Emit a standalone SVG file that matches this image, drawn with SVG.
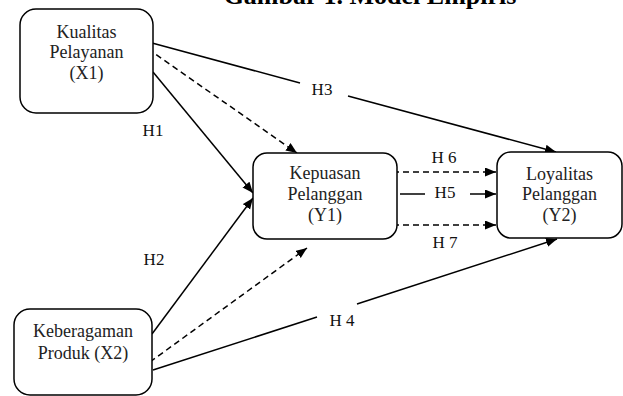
<svg xmlns="http://www.w3.org/2000/svg" width="623" height="396" viewBox="0 0 623 396">
<style>
.box{fill:#fff;stroke:#000;stroke-width:1.5}
.t{font-family:"Liberation Serif","Times New Roman",serif;font-size:18px;fill:#222;text-anchor:middle}
.lbl{font-family:"Liberation Serif","Times New Roman",serif;font-size:17px;fill:#111;text-anchor:middle}
.ln{stroke:#000;stroke-width:1.5;fill:none}
.dash{stroke-dasharray:6 4}
</style>
<defs>
<marker id="ah" markerUnits="userSpaceOnUse" markerWidth="12" markerHeight="10" refX="11" refY="4.5" orient="auto">
<path d="M0,0 L11,4.5 L0,9 z" fill="#000"/>
</marker>
</defs>
<rect width="623" height="396" fill="#fff"/>
<text x="370" y="4" font-family="'Liberation Serif','Times New Roman',serif" font-size="26" font-weight="bold" text-anchor="middle" fill="#000">Gambar 1. Model Empiris</text>
<g id="connectors">
<line class="ln" x1="152" y1="43" x2="300" y2="83"/>
<line class="ln" x1="348" y1="96" x2="556" y2="152" marker-end="url(#ah)"/>
<line class="ln" x1="153" y1="72" x2="253" y2="193" marker-end="url(#ah)"/>
<line class="ln dash" x1="148" y1="49" x2="297" y2="153" marker-end="url(#ah)"/>
<line class="ln" x1="152" y1="334" x2="253" y2="198" marker-end="url(#ah)"/>
<line class="ln dash" x1="150" y1="362" x2="307" y2="248" marker-end="url(#ah)"/>
<line class="ln" x1="153" y1="370" x2="317" y2="317"/>
<line class="ln" x1="357" y1="304" x2="557" y2="239" marker-end="url(#ah)"/>
<line class="ln dash" x1="393" y1="172" x2="496" y2="172" marker-end="url(#ah)"/>
<line class="ln" x1="400" y1="194" x2="425" y2="194"/>
<line class="ln" x1="470" y1="194" x2="496" y2="194" marker-end="url(#ah)"/>
<line class="ln dash" x1="393" y1="225" x2="496" y2="225" marker-end="url(#ah)"/>
<text class="lbl" x="322" y="95">H3</text>
<text class="lbl" x="153" y="136">H1</text>
<text class="lbl" x="154" y="265">H2</text>
<text class="lbl" x="342" y="326">H 4</text>
<text class="lbl" x="444" y="163">H 6</text>
<text class="lbl" x="445" y="198">H5</text>
<text class="lbl" x="445" y="248">H 7</text>
</g>
<g id="X1">
<rect class="box" x="20" y="9" width="133" height="104" rx="16"/>
<text class="t" x="86.5" y="38">Kualitas</text>
<text class="t" x="86.5" y="58">Pelayanan</text>
<text class="t" x="86.5" y="79">(X1)</text>
</g>
<g id="X2">
<rect class="box" x="14" y="309" width="138" height="86" rx="16"/>
<text class="t" x="83" y="337">Keberagaman</text>
<text class="t" x="83" y="359">Produk (X2)</text>
</g>
<g id="Y1">
<rect class="box" x="253" y="153" width="144" height="86" rx="14"/>
<text class="t" x="325" y="179">Kepuasan</text>
<text class="t" x="325" y="200">Pelanggan</text>
<text class="t" x="325" y="221">(Y1)</text>
</g>
<g id="Y2">
<rect class="box" x="497" y="152" width="125" height="86" rx="14"/>
<text class="t" x="559.5" y="180">Loyalitas</text>
<text class="t" x="559.5" y="200">Pelanggan</text>
<text class="t" x="559.5" y="221">(Y2)</text>
</g>
</svg>
